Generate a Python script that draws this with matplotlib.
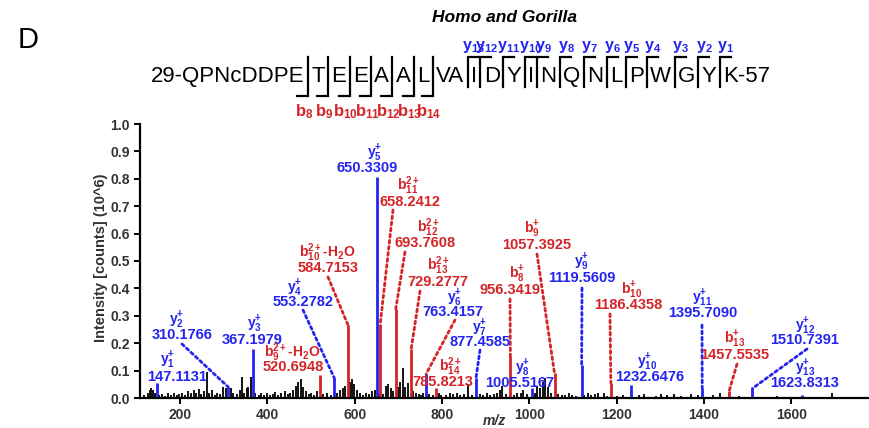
import matplotlib
matplotlib.use("Agg")
import matplotlib.pyplot as plt

plt.rcParams['font.family'] = ['Liberation Sans', 'DejaVu Sans']
plt.rcParams['mathtext.fontset'] = 'custom'
plt.rcParams['mathtext.rm'] = 'Liberation Sans:bold'
plt.rcParams['mathtext.bf'] = 'Liberation Sans:bold'
plt.rcParams['mathtext.it'] = 'Liberation Sans:bold:italic'

RED = '#d42428'
BLUE = '#2424f0'
GREY = '#333333'

# peptide and observed cleavage sites
peptide = "QPNcDDPETEEAALVAIDYINQNLPWGYK"
first_res, last_res = 29, 57
b_sites = [8, 9, 10, 11, 12, 13, 14]
y_sites = [13, 12, 11, 10, 9, 8, 7, 6, 5, 4, 3, 2, 1]

# matched y ions
y_names = ['y1', 'y2', 'y3', 'y4', 'y5', 'y6', 'y7', 'y8', 'y9', 'y10', 'y11', 'y12', 'y13']
y_mz = [147.1131, 310.1766, 367.1979, 553.2782, 650.3309, 763.4157, 877.4585,
        1005.5167, 1119.5609, 1232.6476, 1395.7090, 1510.7391, 1623.8313]
y_int = [0.055, 0.040, 0.180, 0.072, 0.805, 0.088, 0.072,
         0.036, 0.120, 0.047, 0.037, 0.035, 0.012]

# matched b ions
b_names = ['b9_2h2o', 'b10_2h2o', 'b11_2', 'b12_2', 'b13_2', 'b14_2',
           'b8', 'b9', 'b10', 'b13']
b_mz = [520.6948, 584.7153, 658.2412, 693.7608, 729.2777, 785.8213,
        956.3419, 1057.3925, 1186.4358, 1457.5535]
b_int = [0.085, 0.265, 0.270, 0.325, 0.180, 0.037,
         0.153, 0.090, 0.055, 0.026]

# unassigned peaks
bg_mz = [118, 126, 130, 134, 138, 143, 152, 158, 166, 172, 178, 185, 192, 198,
         204, 212, 218, 224, 231, 236, 242, 248, 255, 261, 266, 272, 279, 285,
         291, 298, 304, 317, 322, 330, 336, 341, 346, 352, 356, 362, 372, 380,
         386, 392, 399, 405, 412, 418, 425, 432, 440, 446, 452, 458, 466, 471,
         476, 481, 488, 494, 500, 507, 514, 528, 536, 545, 560, 566, 572, 578,
         590, 594, 598, 604, 611, 618, 626, 633, 640, 646, 655, 664, 671, 676,
         682, 688, 698, 704, 711, 716, 722, 734, 740, 746, 752, 757, 770, 778,
         792, 798, 810, 818, 826, 834, 842, 850, 860, 868, 886, 894, 902, 910,
         918, 925, 932, 938, 946, 964, 972, 980, 986, 994, 1012, 1018, 1024,
         1030, 1036, 1042, 1050, 1066, 1074, 1082, 1090, 1098, 1106, 1126, 1134,
         1142, 1150, 1158, 1170, 1178, 1200, 1214, 1250, 1262, 1290, 1302, 1316,
         1330, 1346, 1370, 1386, 1420, 1437, 1480, 1568, 1694]
bg_int = [0.012, 0.020, 0.028, 0.035, 0.030, 0.020, 0.010, 0.015, 0.008, 0.020,
          0.012, 0.018, 0.010, 0.015, 0.020, 0.012, 0.025, 0.020, 0.030, 0.018,
          0.032, 0.015, 0.025, 0.095, 0.020, 0.030, 0.012, 0.020, 0.015, 0.040,
          0.035, 0.035, 0.020, 0.015, 0.030, 0.077, 0.020, 0.035, 0.040, 0.077,
          0.020, 0.012, 0.018, 0.010, 0.020, 0.012, 0.015, 0.022, 0.010, 0.020,
          0.025, 0.015, 0.020, 0.030, 0.045, 0.060, 0.068, 0.040, 0.025, 0.015,
          0.020, 0.012, 0.025, 0.015, 0.020, 0.012, 0.020, 0.030, 0.035, 0.045,
          0.060, 0.070, 0.050, 0.030, 0.020, 0.012, 0.020, 0.015, 0.025, 0.030,
          0.020, 0.015, 0.045, 0.050, 0.035, 0.025, 0.040, 0.060, 0.110, 0.040,
          0.055, 0.025, 0.020, 0.015, 0.010, 0.020, 0.015, 0.012, 0.018, 0.012,
          0.012, 0.020, 0.015, 0.018, 0.010, 0.015, 0.050, 0.012, 0.015, 0.010,
          0.020, 0.012, 0.015, 0.020, 0.030, 0.045, 0.015, 0.012, 0.020, 0.018,
          0.030, 0.015, 0.020, 0.045, 0.035, 0.060, 0.073, 0.040, 0.020, 0.015,
          0.010, 0.012, 0.020, 0.010, 0.008, 0.012, 0.018, 0.010, 0.015, 0.020,
          0.020, 0.008, 0.006, 0.010, 0.012, 0.015, 0.008, 0.015, 0.012, 0.015,
          0.008, 0.015, 0.010, 0.010, 0.020, 0.006, 0.008, 0.020]


def ion_label(name):
    if '_2h2o' in name:
        return r'$\mathbf{%s_{%s}^{2+}}$-H$_2$O' % (name[0], name[1:name.index('_')])
    if '_2' in name:
        return r'$\mathbf{%s_{%s}^{2+}}$' % (name[0], name[1:name.index('_')])
    return r'$\mathbf{%s_{%s}^{+}}$' % (name[0], name[1:])


# label placement in figure pixels (from top): name xy, number xy, leader start or None
label_pos = {
    'y1': ((168, 360), (177, 377), None),
    'y2': ((177, 320), (182, 335), (182, 344)),
    'y3': ((255, 324), (252, 340), None),
    'y4': ((295, 288), (303, 302), (303, 310)),
    'y5': ((375, 153), (367, 168), None),
    'y6': ((455, 298), (453, 312), (455, 320)),
    'y7': ((480, 328), (480, 342), (480, 350)),
    'y8': ((523, 368), (520, 383), None),
    'y9': ((582, 262), (582, 278), (582, 288)),
    'y10': ((647, 362), (650, 377), None),
    'y11': ((702, 298), (703, 313), (702, 325)),
    'y12': ((805, 326), (805, 340), (807, 349)),
    'y13': ((805, 368), (805, 383), None),
    'b9_2h2o': ((292, 353), (293, 367), None),
    'b10_2h2o': ((327, 253), (328, 268), (328, 277)),
    'b11_2': ((408, 186), (410, 202), (393, 210)),
    'b12_2': ((428, 228), (425, 243), (405, 252)),
    'b13_2': ((438, 266), (438, 282), (420, 291)),
    'b14_2': ((450, 367), (443, 382), None),
    'b8': ((517, 274), (510, 290), (510, 299)),
    'b9': ((532, 229), (537, 245), (537, 254)),
    'b10': ((632, 290), (628, 305), (610, 314)),
    'b13': ((735, 339), (735, 355), (737, 364)),
}
leader_colour = {'y6': RED}

W, H = 870, 428
fig = plt.figure(figsize=(W / 100, H / 100), dpi=100)
ax = fig.add_axes([140 / W, 1 - 398 / H, (W - 140) / W, (398 - 124) / H])
lay = fig.add_axes([0, 0, 1, 1], zorder=3)
lay.set_xlim(0, W)
lay.set_ylim(H, 0)
lay.axis('off')

# spectrum
ax.vlines(bg_mz, 0, bg_int, color='black', lw=1.3)
ax.vlines(b_mz, 0, b_int, color=RED, lw=2.0)
ax.vlines(y_mz, 0, y_int, color=BLUE, lw=2.0)

ax.set_xlim(108, 1780)
ax.set_ylim(0, 1.0)
ax.set_yticks([i / 10 for i in range(11)])
ax.set_xticks(range(200, 1700, 200))
ax.yaxis.set_major_formatter(matplotlib.ticker.FormatStrFormatter('%.1f'))
for s in ['top', 'right']:
    ax.spines[s].set_visible(False)
for s in ['left', 'bottom']:
    ax.spines[s].set_linewidth(1.6)
ax.tick_params(width=1.4, length=4, labelsize=10, colors='black', labelcolor=GREY)
for lab in ax.get_xticklabels() + ax.get_yticklabels():
    lab.set_fontweight('bold')
ax.patch.set_alpha(0)

fig.text(101 / W, 1 - 258 / H, 'Intensity [counts] (10^6)', rotation=90,
         ha='center', va='center', fontsize=10.5, fontweight='bold', color=GREY)
fig.text(494 / W, 1 - 421 / H, 'm/z', ha='center', va='center', fontsize=10,
         fontweight='bold', style='italic', color=GREY)

# peak annotations
for names, mzs, ints, col in [(y_names, y_mz, y_int, BLUE), (b_names, b_mz, b_int, RED)]:
    for name, mz, h in zip(names, mzs, ints):
        (nx, ny), (mx, my), lead = label_pos[name]
        lay.text(nx, ny, ion_label(name), ha='center', va='center', fontsize=10,
                 fontweight='bold', color=col)
        lay.text(mx, my, '%.4f' % mz, ha='center', va='center', fontsize=10.5,
                 fontweight='bold', color=col)
        if lead is not None:
            ax.annotate('', xy=(mz, h), xytext=(lead[0], H - lead[1]),
                        textcoords='figure pixels',
                        arrowprops=dict(arrowstyle='-', linestyle=(0, (1, 1.2)),
                                        lw=2.0, color=leader_colour.get(name, col),
                                        shrinkA=0, shrinkB=0))

# title and panel letter
fig.text(504 / W, 1 - 18 / H, 'Homo and Gorilla', ha='center', va='center',
         fontsize=12.5, fontweight='bold', style='italic')
fig.text(28 / W, 1 - 40 / H, 'D', ha='center', va='center', fontsize=21)

# fragmentation map of the sequence
n = len(peptide)
cuts = sorted(set(b_sites) | {n - k for k in y_sites})
segments, prev = [], 0
for c in cuts:
    segments.append(peptide[prev:c])
    prev = c
segments.append(peptide[prev:])
segments[0] = '%d-' % first_res + segments[0]
segments[-1] = segments[-1] + '-%d' % last_res

renderer = fig.canvas.get_renderer()
x, base, gap = 151, 82, 6.6
top, b_bot, y_bot = 57, 96, 87
for i, seg in enumerate(segments):
    t = lay.text(x, base, seg, fontsize=16, ha='left', va='baseline')
    x += t.get_window_extent(renderer).width
    if i == len(segments) - 1:
        break
    gx = x + gap / 2
    cut = cuts[i]
    if cut in b_sites:
        lay.plot([gx, gx, gx - 11], [top, b_bot, b_bot], color='black', lw=1.6,
                 solid_joinstyle='miter')
        lay.text(gx - 4, 112, r'$\mathbf{b_{%d}}$' % cut, ha='center', va='center',
                 fontsize=12, color=RED)
    if (n - cut) in y_sites:
        lay.plot([gx, gx, gx + 11], [y_bot, top, top], color='black', lw=1.6,
                 solid_joinstyle='miter')
        lay.text(gx + 6, 47, r'$\mathbf{y_{%d}}$' % (n - cut), ha='center', va='center',
                 fontsize=11.5, color=BLUE)
    x += gap

fig.savefig('out.png', dpi=100)
